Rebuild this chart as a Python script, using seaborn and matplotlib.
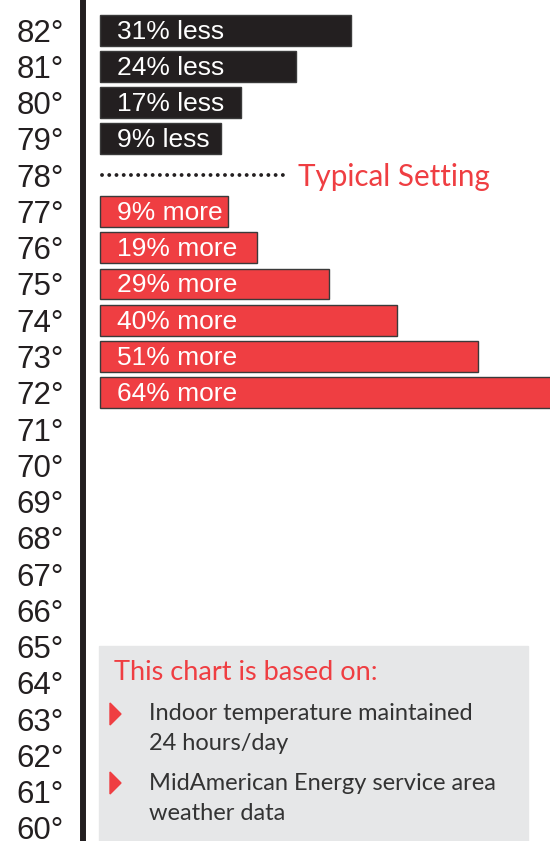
import matplotlib
matplotlib.use('Agg')
import matplotlib.pyplot as plt
import seaborn as sns
import pandas as pd
from matplotlib.patches import Rectangle, Polygon

# Data
temps = [82, 81, 80, 79, 77, 76, 75, 74, 73, 72]
bar_labels = ['31% less', '24% less', '17% less', '9% less',
              '9% more', '19% more', '29% more', '40% more', '51% more', '64% more']
# relative bar lengths as drawn in the original
bar_length = [251, 196, 141, 121, 128, 157, 229, 297, 378, 470]
kind = ['less'] * 4 + ['more'] * 6
typical_temp = 78
axis_temps = list(range(60, 83))
notes = [['Indoor temperature maintained', '24 hours/day'],
         ['MidAmerican Energy service area', 'weather data']]

DARK = '#231f20'
RED = '#ef3e42'
W, H = 550, 841

df = pd.DataFrame({'temp': temps, 'length': bar_length, 'kind': kind, 'label': bar_labels})

sns.set_theme(style='white')
plt.rcParams['font.family'] = ['Liberation Sans', 'DejaVu Sans']

fig = plt.figure(figsize=(W / 100, H / 100), dpi=100)
ax = fig.add_axes([83 / W, 0, (W - 83) / W, 1])

sns.barplot(data=df, x='length', y='temp', hue='kind', orient='y', native_scale=True,
            palette={'less': DARK, 'more': RED}, saturation=1, dodge=False, errorbar=None,
            width=0.85, edgecolor='#3a3a3a', linewidth=1, legend=False, ax=ax)

ax.set_xlim(-17, W - 100)
ax.set_ylim(59.64, 82.83)

for t, lab in zip(df['temp'], df['label']):
    ax.text(17, t - 0.04, lab, color='white', fontsize=19, va='center', ha='left')

# typical setting row
ax.plot([2, 188], [typical_temp, typical_temp], color=DARK, lw=2.8,
        linestyle=(0, (0.01, 1.85)), dash_capstyle='round')
ax.text(198, typical_temp - 0.06, 'Typical Setting', color=RED, fontsize=21.3,
        family='Lato', va='center', ha='left')

ax.set_yticks(axis_temps)
ax.set_yticklabels([f'{t}°' for t in axis_temps])
ax.tick_params(axis='y', length=0, pad=14, labelsize=22.5, labelcolor=DARK)
ax.set_xticks([])
ax.set_xlabel('')
ax.set_ylabel('')
for s in ['top', 'right', 'bottom']:
    ax.spines[s].set_visible(False)
ax.spines['left'].set_linewidth(4.3)
ax.spines['left'].set_color(DARK)


# info box in figure pixels
def fx(x):
    return x / W


def fy(y):
    return 1 - y / H


fig.patches.append(Rectangle((fx(99), fy(H)), fx(528) - fx(99), fy(646) - fy(H),
                             transform=fig.transFigure, color='#e6e7e8', zorder=5))
fig.text(fx(114), fy(672), 'This chart is based on:', color=RED, fontsize=19.5,
         family='Lato', va='center', ha='left', zorder=6)
for yc, lines in zip([714, 783], notes):
    fig.patches.append(Polygon([(fx(110), fy(yc - 11)), (fx(121), fy(yc)), (fx(110), fy(yc + 11))],
                               closed=True, transform=fig.transFigure, color=RED, zorder=6))
    for i, line in enumerate(lines):
        fig.text(fx(149), fy(yc + 30 * i), line, color='#333333', fontsize=17, family='Lato',
                 va='center', ha='left', zorder=6)

fig.savefig('out.png', dpi=100)
